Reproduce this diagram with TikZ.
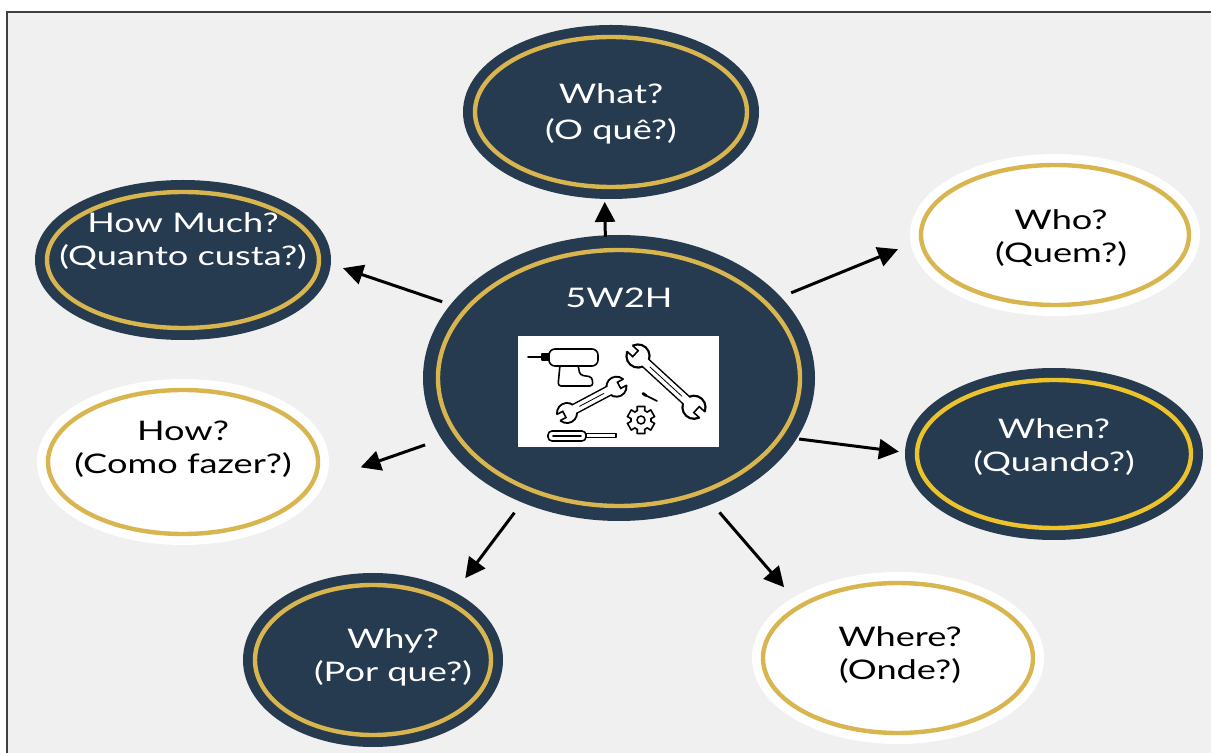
\documentclass[tikz,border=0pt]{standalone}
\usepackage{fontspec}
\newfontfamily\latofont{Lato}[FakeStretch=1.34]
\usetikzlibrary{arrows.meta,shapes.geometric}

\definecolor{navy}{HTML}{263A50}
\definecolor{gold}{HTML}{D8B54E}
\definecolor{brightgold}{HTML}{ECC32A}
\definecolor{paper}{HTML}{F0F0F0}

\newcommand{\bubblefont}{\latofont\fontsize{13.5}{16.5}\selectfont}

\tikzset{
  bubble/.style={ellipse, inner sep=0pt, outer sep=0pt, line width=2.2pt},
  darkbubble/.style={bubble, fill=navy, draw=gold, preaction={draw=navy, line width=#1}},
  darkbubble/.default=12pt,
  lightbubble/.style={bubble, fill=white, draw=gold, preaction={draw=white, line width=11pt}},
  darktext/.style={text=white, align=center, font=\bubblefont},
  lighttext/.style={text=black, align=center, font=\bubblefont},
  arrowline/.style={line width=1.5pt, -{Triangle[length=10pt,width=10pt]}},
  toolline/.style={line width=0.8pt, line join=round, line cap=round},
  pics/wrench/.style={code={
    \fill[black] (0,0) circle (11) (#1,0) circle (11);
    \draw[black, line width=5.5pt] (0,0) -- (#1,0);
    \fill[white] (0,0) circle (9) (#1,0) circle (9);
    \draw[white, line width=4pt] (0,0) -- (#1,0);
    \draw[line width=0.4pt] (14,0) -- (#1-14,0);
    % open jaws
    \fill[white] (-13,-3.5) rectangle (-3,3.5) (#1+3,-3.5) rectangle (#1+13,3.5);
    \draw[line width=0.8pt] (-9.8,-3.5) -- (-3,-3.5) -- (-3,3.5) -- (-9.8,3.5)
      (#1+9.8,-3.5) -- (#1+3,-3.5) -- (#1+3,3.5) -- (#1+9.8,3.5);
  }},
}

\begin{document}
\begin{tikzpicture}[x=0.5pt, y=-0.5pt]
  \useasboundingbox (0,0) rectangle (1211,753);

  % page and frame
  \fill[white] (0,0) rectangle (1211,753);
  \fill[paper] (7,12) rectangle (1211,753);
  \draw[line width=0.8pt, black!75] (1211,12) -- (7,12) -- (7,753);

  % hub
  \node[darkbubble=15pt, minimum width=181pt, minimum height=128pt,
        label={[darktext, yshift=40pt]center:5W2H}] (core) at (619,378) {};

  % questions
  \node[darkbubble, minimum width=136pt, minimum height=75pt,
        label={[darktext, text depth=0pt]center:{What?\\[1.5pt](O quê?)}}] (what) at (611,112) {};
  \node[lightbubble, minimum width=134pt, minimum height=70pt,
        label={[lighttext, xshift=3pt, yshift=-1.5pt]center:{Who?\\(Quem?)}}] (who) at (1055,235) {};
  \node[darkbubble, minimum width=136pt, minimum height=68pt,
        label={[darktext, yshift=9.5pt]center:{How Much?\\(Quanto custa?)}}] (howmuch) at (183,260) {};
  \node[lightbubble, minimum width=135pt, minimum height=72pt,
        label={[lighttext, yshift=6.5pt]center:{How?\\(Como fazer?)}}] (how) at (183,462) {};
  \node[darkbubble, draw=brightgold, minimum width=137pt, minimum height=74pt,
        label={[darktext, yshift=3.5pt]center:{When?\\(Quando?)}}] (when) at (1054,454) {};
  \node[darkbubble, minimum width=118pt, minimum height=75pt,
        label={[darktext, xshift=10pt, yshift=1.5pt]center:{Why?\\(Por que?)}}] (why) at (373,660) {};
  \node[lightbubble, minimum width=135pt, minimum height=75pt,
        label={[lighttext, xshift=1pt, yshift=1.5pt]center:{Where?\\(Onde?)}}] (where) at (898,658) {};

  % arrows out of the hub
  \draw[arrowline, shorten <=6.7pt, shorten >=7.5pt] (core.96.3) -- (what.265.4);
  \draw[arrowline, shorten <=12.5pt, shorten >=12.7pt] (core.156.1) -- (howmuch.0);
  \draw[arrowline, shorten <=13.7pt, shorten >=12.6pt] (core.27.6) -- (who.182.5);
  \draw[arrowline, shorten <=16.5pt, shorten >=26.2pt] (core.199) -- (how.-10.4);
  \draw[arrowline, shorten <=9.7pt, shorten >=9.1pt] (core.-20) -- (when.180);
  \draw[arrowline, shorten <=14.2pt, shorten >=14.8pt] (core.232.4) -- (why.38.4);
  \draw[arrowline, shorten <=13.6pt, shorten >=12.5pt] (core.-54.7) -- (where.152.6);

  % tool picture
  \node[fill=white, minimum width=100.5pt, minimum height=55.5pt, inner sep=0pt] (toolbox) at (618.5,391.5) {};

  % drill
  \draw[toolline] (528,357) -- (542,357);
  \draw[toolline, fill=black] (542,354) rectangle (549,360);
  \draw[toolline, fill=white, rounded corners=1.5pt] (560,365) -- (558,386) -- (593,386) -- (592,377) -- (580,375) -- (578,365);
  \draw[toolline, fill=white, rounded corners=3pt] (549,349) rectangle (598,366);

  % wrenches
  \pic[rotate=-42.5, scale=1.15] at (638,356) {wrench=66};
  \pic[rotate=28] at (567,413) {wrench=56};

  % gear
  \draw[toolline, fill=white, shift={(641,420)}] (0:10)
    \foreach \a in {0,60,...,300}{ -- (\a+8:10) -- (\a+14:14) -- (\a+46:14) -- (\a+52:10) -- (\a+60:10)} -- cycle;
  \draw[toolline] (641,420) circle (4);

  % screw
  \draw[toolline] (645,395) -- (657,401);
  \draw[line width=1.4pt, line cap=round] (643,393.5) -- (646,395.5);

  % screwdriver
  \draw[toolline, fill=white, rounded corners=2pt] (548,431) rectangle (586,441);
  \draw[toolline] (553,436) -- (581,436);
  \draw[toolline, fill=white] (586,433.5) rectangle (616,437.5);
\end{tikzpicture}
\end{document}
